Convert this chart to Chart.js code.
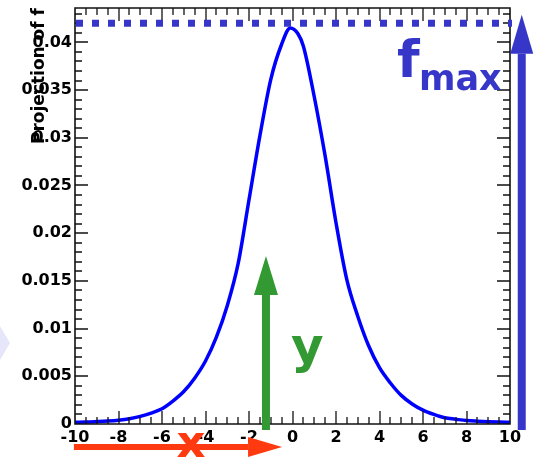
<!DOCTYPE html>
<html>
<head>
<meta charset="utf-8">
<script src="https://cdn.jsdelivr.net/npm/chart.js@4.4.1/dist/chart.umd.min.js"></script>
<style>
  html, body { margin: 0; padding: 0; background: #fff; }
  #wrap { width: 543px; height: 459px; position: relative; }
</style>
</head>
<body>
<div id="wrap"><canvas id="chart"></canvas></div>
<script>
// x positions and projection values
const xValues = [
  -10, -9.5, -9, -8.5, -8, -7.5, -7, -6.5, -6, -5.5, -5, -4.5, -4, -3.5, -3, -2.5, -2, -1.5, -1, -0.5,
  -0.1, 0.25, 0.5, 1, 1.5, 2, 2.5, 3, 3.5, 4, 4.5, 5, 5.5, 6, 6.5, 7, 7.5, 8, 8.5, 9, 9.5, 10
]
const fValues = [
  0.00018, 0.0002, 0.00025, 0.00031, 0.0004, 0.00055, 0.0008, 0.00115, 0.0016, 0.0024, 0.0034,
  0.0048, 0.0066, 0.0091, 0.0124, 0.0168, 0.0235, 0.0302, 0.0361, 0.0398,
  0.0415, 0.0409, 0.0396, 0.0343, 0.0281, 0.0211, 0.0151, 0.0113, 0.0082, 0.0059, 0.0043, 0.003,
  0.0021, 0.00145, 0.001, 0.00065, 0.0005, 0.00036, 0.00029, 0.00024, 0.0002, 0.00018
]
const xTicks = [-10, -8, -6, -4, -2, 0, 2, 4, 6, 8, 10]
const yTicks = [0, 0.005, 0.01, 0.015, 0.02, 0.025, 0.03, 0.035, 0.04]
const fMax = 0.042

const blue = "#3636c8"
const green = "#339933"
const red = "#ff3a10"
const labelFont = { family: "DejaVu Sans", weight: "bold", size: 16 }

// ROOT style frame with inward ticks on all four sides
const rootFrame = {
  id: "rootFrame",
  afterDatasetsDraw(chart) {
    const c = chart.ctx
    const a = chart.chartArea
    const sx = chart.scales.x
    const sy = chart.scales.y
    const L = Math.round(a.left), R = Math.round(a.right)
    const T = Math.round(a.top), B = Math.round(a.bottom)
    c.save()
    c.setLineDash([])
    c.strokeStyle = "#111111"
    c.lineWidth = 1.6
    c.beginPath()
    c.moveTo(L, T)
    c.lineTo(R, T)
    c.lineTo(R, B)
    c.lineTo(L, B)
    c.closePath()
    c.stroke()

    c.lineWidth = 1.3
    c.beginPath()
    for (let i = 1; i < 40; i++) {
      const px = Math.round(sx.getPixelForValue(-10 + i * 0.5))
      const len = i % 4 === 0 ? 13 : 7
      c.moveTo(px, B)
      c.lineTo(px, B - len)
      c.moveTo(px, T)
      c.lineTo(px, T + len)
    }
    for (let i = 1; i <= 43; i++) {
      const py = Math.round(sy.getPixelForValue(i * 0.001))
      const len = i % 5 === 0 ? 13 : 7
      c.moveTo(L, py)
      c.lineTo(L + len, py)
      c.moveTo(R, py)
      c.lineTo(R - len, py)
    }
    c.stroke()
    c.restore()
  }
}

function drawArrow(c, x0, y0, x1, y1, shaft, headW, headL, color) {
  const dx = x1 - x0, dy = y1 - y0
  const len = Math.hypot(dx, dy)
  const ux = dx / len, uy = dy / len
  const bx = x1 - ux * headL, by = y1 - uy * headL
  c.save()
  c.strokeStyle = color
  c.fillStyle = color
  c.lineWidth = shaft
  c.beginPath()
  c.moveTo(x0, y0)
  c.lineTo(bx, by)
  c.stroke()
  c.beginPath()
  c.moveTo(x1, y1)
  c.lineTo(bx - uy * headW / 2, by + ux * headW / 2)
  c.lineTo(bx + uy * headW / 2, by - ux * headW / 2)
  c.closePath()
  c.fill()
  c.restore()
}

const annotations = {
  id: "annotations",
  afterDraw(chart) {
    const c = chart.ctx
    const a = chart.chartArea
    const sx = chart.scales.x
    const sy = chart.scales.y

    // faint chevron on the left edge
    c.save()
    c.fillStyle = "#e6e6fa"
    c.beginPath()
    c.moveTo(0, 326)
    c.lineTo(10, 343)
    c.lineTo(0, 360)
    c.closePath()
    c.fill()
    c.restore()

    // f max dotted line
    const ym = sy.getPixelForValue(fMax)
    c.save()
    c.strokeStyle = blue
    c.lineWidth = 7
    c.setLineDash([7, 9])
    c.beginPath()
    c.moveTo(a.left + 1, ym)
    c.lineTo(a.right + 2, ym)
    c.stroke()
    c.restore()

    // arrows
    drawArrow(c, sx.getPixelForValue(10.54), sy.getPixelForValue(-0.00063),
      sx.getPixelForValue(10.54), sy.getPixelForValue(0.0429), 8, 23, 39, blue)
    drawArrow(c, sx.getPixelForValue(-1.22), sy.getPixelForValue(-0.00063),
      sx.getPixelForValue(-1.22), sy.getPixelForValue(0.0176), 8, 24, 39, green)
    drawArrow(c, sx.getPixelForValue(-10.05), sy.getPixelForValue(-0.0024),
      sx.getPixelForValue(-0.48), sy.getPixelForValue(-0.0024), 6, 20, 34, red)

    // labels
    c.save()
    c.textBaseline = "alphabetic"
    c.textAlign = "left"
    c.fillStyle = blue
    c.font = "bold 52px 'DejaVu Sans'"
    c.fillText("f", 397, 77)
    c.font = "bold 35px 'DejaVu Sans'"
    c.fillText("max", 419, 90)
    c.fillStyle = green
    c.font = "bold 50px 'DejaVu Sans'"
    c.fillText("y", 291, 363)
    c.fillStyle = red
    c.font = "bold 45px 'DejaVu Sans'"
    c.textAlign = "center"
    c.fillText("x", 191, 457)
    c.restore()
  }
}

const ctx = document.getElementById("chart").getContext("2d")
new Chart(ctx, {
  type: "line",
  data: {
    datasets: [
      {
        data: xValues.map((v, i) => ({ x: v, y: fValues[i] })),
        borderColor: "#0000ff",
        borderWidth: 3.5,
        pointRadius: 0,
        cubicInterpolationMode: "monotone",
        fill: false,
      },
    ],
  },
  options: {
    responsive: true,
    maintainAspectRatio: false,
    animation: false,
    layout: { padding: { left: 0, right: 33, top: 8, bottom: 0 } },
    plugins: { legend: { display: false }, tooltip: { enabled: false } },
    scales: {
      x: {
        type: "linear",
        min: -10,
        max: 10,
        grid: { display: false, drawTicks: false },
        border: { display: false },
        ticks: { font: labelFont, color: "#000", padding: 4, maxRotation: 0, autoSkip: false, includeBounds: false },
        afterBuildTicks: (s) => { s.ticks = xTicks.map((v) => ({ value: v })) },
        afterFit: (s) => {
          s.height = 35
          s.paddingLeft = 0
          s.paddingRight = 0
        },
      },
      y: {
        type: "linear",
        min: 0,
        max: 0.0436,
        grid: { display: false, drawTicks: false },
        border: { display: false },
        ticks: {
          font: labelFont,
          color: "#000",
          padding: 3,
          autoSkip: false,
          includeBounds: false,
          callback: (v) => String(+v.toFixed(4)),
        },
        afterBuildTicks: (s) => { s.ticks = yTicks.map((v) => ({ value: v })) },
        afterFit: (s) => {
          s.width = 75
          s.paddingTop = 0
          s.paddingBottom = 0
        },
        title: {
          display: true,
          text: "Projection of f",
          align: "end",
          color: "#000",
          font: { family: "DejaVu Sans", weight: "bold", size: 17 },
          padding: { top: 29, bottom: 0 },
        },
      },
    },
  },
  plugins: [rootFrame, annotations],
})
</script>
</body>
</html>
